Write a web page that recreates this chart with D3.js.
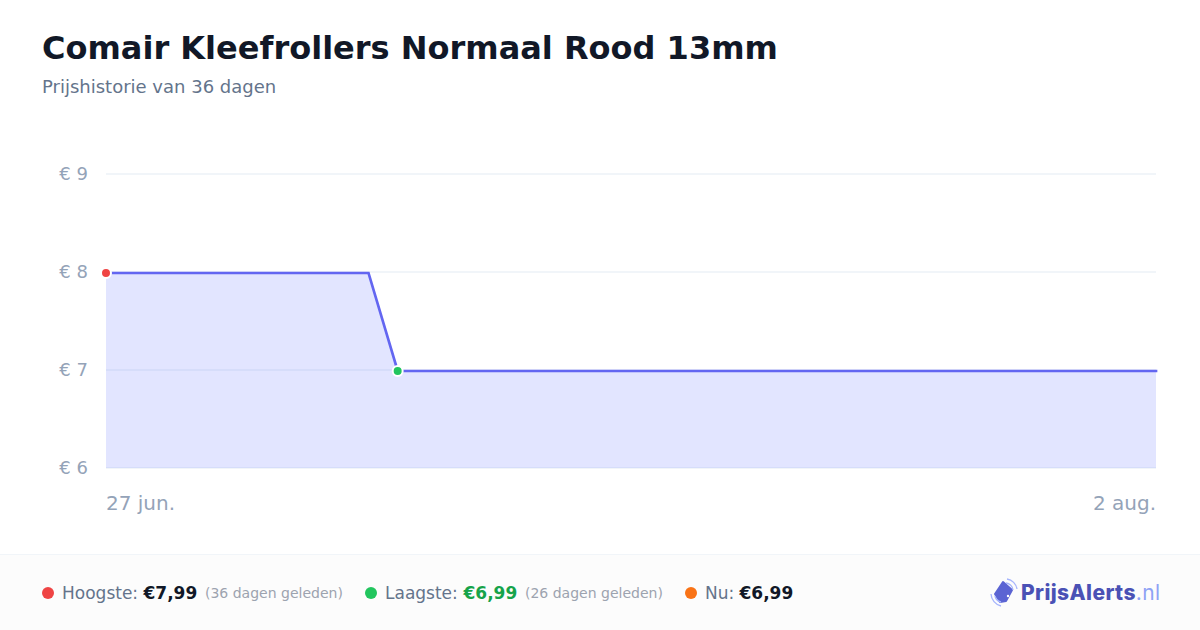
<!DOCTYPE html>
<html><head><meta charset="utf-8">
<script src="https://cdn.jsdelivr.net/npm/d3@7"></script>
<style>html,body{margin:0;padding:0;background:#fff}svg{display:block}text{font-family:"DejaVu Sans",sans-serif}</style>
</head><body><svg id="c" width="1200" height="630"></svg>
<script>
const dayOffsets = [0, 9, 10, 36];
const prices = [7.99, 7.99, 6.99, 6.99];
const yTicks = [6, 7, 8, 9];
const xLabels = ["27 jun.", "2 aug."];
const title = "Comair Kleefrollers Normaal Rood 13mm";
const subtitle = "Prijshistorie van 36 dagen";

const svg = d3.select("#c");
const x = d3.scaleLinear().domain([0, 36]).range([106, 1156]);
const y = d3.scaleLinear().domain([6, 9]).range([468, 174]);
const pts = dayOffsets.map((d, i) => ({d, v: prices[i]}));

svg.append("text").attr("x", 42).attr("y", 59).attr("font-size", 32).attr("font-weight", 700).attr("fill", "#111827").text(title);
svg.append("text").attr("x", 42).attr("y", 93).attr("font-size", 18).attr("fill", "#64748b").text(subtitle);

const grid = svg.append("g");
yTicks.forEach(t => {
  grid.append("line").attr("x1", 106).attr("x2", 1156).attr("y1", y(t)).attr("y2", y(t)).attr("stroke", "#f1f5f9").attr("stroke-width", 2);
  svg.append("text").attr("x", 88).attr("y", y(t) + 6).attr("text-anchor", "end").attr("font-size", 18).attr("fill", "#94a3b8").text("€ " + t);
});

svg.append("path").datum(pts)
  .attr("d", d3.area().x(p => x(p.d)).y0(y(6)).y1(p => y(p.v)))
  .attr("fill", "#6d7dff").attr("fill-opacity", 0.2);
svg.append("path").datum(pts)
  .attr("d", d3.line().x(p => x(p.d)).y(p => y(p.v)))
  .attr("fill", "none").attr("stroke", "#6366f1").attr("stroke-width", 2.7).attr("stroke-linecap", "square");

const dot = (i, c) => svg.append("circle").attr("cx", x(dayOffsets[i])).attr("cy", y(prices[i])).attr("r", 5).attr("fill", c).attr("stroke", "#fff").attr("stroke-width", 2);
dot(0, "#ef4444");
dot(2, "#22c55e");

svg.append("text").attr("x", 106).attr("y", 510).attr("font-size", 20).attr("fill", "#94a3b8").text(xLabels[0]);
svg.append("text").attr("x", 1156).attr("y", 510).attr("text-anchor", "end").attr("font-size", 20).attr("fill", "#94a3b8").text(xLabels[1]);

svg.append("rect").attr("x", 0).attr("y", 554).attr("width", 1200).attr("height", 76).attr("fill", "#fcfcfc");
svg.append("line").attr("x1", 0).attr("x2", 1200).attr("y1", 554.5).attr("y2", 554.5).attr("stroke", "#f1f5f9");

function t(xp, s, size, fill, weight, yp) {
  return svg.append("text").attr("x", xp).attr("y", yp || 599).attr("font-size", size).attr("fill", fill).attr("font-weight", weight || 400).text(s);
}
const leg = (cx, c) => svg.append("circle").attr("cx", cx).attr("cy", 593).attr("r", 6).attr("fill", c);
leg(48, "#ef4444");
t(62, "Hoogste:", 17, "#64748b");
t(143.5, "€7,99", 17, "#111827", 700);
t(205, "(36 dagen geleden)", 14, "#9ca3af", 400, 598);
leg(371, "#22c55e");
t(385, "Laagste:", 17, "#64748b");
t(463.5, "€6,99", 17, "#16a34a", 700);
t(525, "(26 dagen geleden)", 14, "#9ca3af", 400, 598);
leg(691, "#f97316");
t(705, "Nu:", 17, "#64748b");
t(739.5, "€6,99", 17, "#111827", 700);

const logo = svg.append("g");
logo.append("path").attr("d", "M1003 582 L1012 590 L1006 601 L1000 602 L995 594 Z").attr("fill", "#5b64d3").attr("stroke", "#5b64d3").attr("stroke-width", 2).attr("stroke-linejoin", "round");
logo.append("circle").attr("cx", 1008).attr("cy", 596).attr("r", 1.2).attr("fill", "#fff");
logo.append("path").attr("d", "M1007 579 A12 12 0 0 1 1017 589 M1006 583 A8 8 0 0 1 1013 590").attr("fill", "none").attr("stroke", "#a5b4fc").attr("stroke-width", 1.3);
logo.append("path").attr("d", "M991 594 A13 13 0 0 0 1001 606 M995 596 A8 8 0 0 0 1001 602").attr("fill", "none").attr("stroke", "#a5b4fc").attr("stroke-width", 1.3);
svg.append("text").attr("x", 1021).attr("y", 600).attr("style", "font-family:Inter;letter-spacing:0.4px").attr("font-size", 21).attr("font-weight", 800).attr("fill", "#4a51b5").text("PrijsAlerts")
  .append("tspan").attr("font-weight", 400).attr("fill", "#8ea2f5").text(".nl");
</script></body></html>
